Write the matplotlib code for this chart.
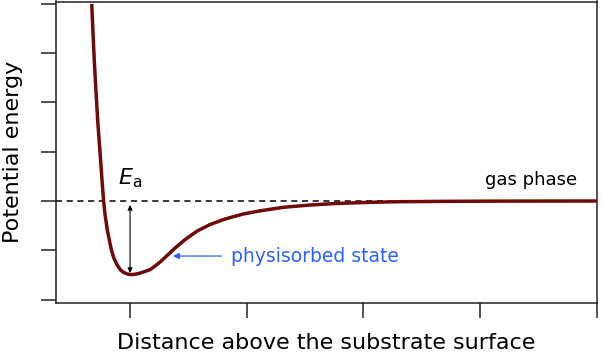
import matplotlib
matplotlib.use("Agg")
import matplotlib.pyplot as plt

# Potential curve (distance, energy)
distance = [0.6715, 0.681, 0.693, 0.707, 0.722, 0.741, 0.756, 0.773, 0.786, 0.805,
            0.822, 0.840, 0.861, 0.889, 0.919, 0.940, 0.957, 0.978, 1.000, 1.021,
            1.043, 1.065, 1.086, 1.129, 1.172, 1.214, 1.257, 1.317, 1.386, 1.472,
            1.575, 1.686, 1.815, 1.969, 2.115, 2.312, 2.544, 2.741, 3.058, 3.316,
            3.744, 4.173, 5.000]
energy = [4.000, 3.472, 2.863, 2.254, 1.645, 1.036, 0.528, 0.000, -0.284, -0.589,
          -0.792, -0.995, -1.157, -1.299, -1.401, -1.440, -1.462, -1.482, -1.492, -1.492,
          -1.486, -1.476, -1.462, -1.429, -1.391, -1.320, -1.239, -1.107, -0.954, -0.782,
          -0.609, -0.477, -0.365, -0.264, -0.199, -0.128, -0.081, -0.053, -0.026, -0.014,
          -0.006, -0.002, 0.000]
x_ticks = [1, 2, 3, 4, 5]
y_ticks = [-2, -1, 0, 1, 2, 3, 4]
well_min_x = 1.0
well_depth = -1.46

fig = plt.figure(figsize=(6.02, 3.57), dpi=100)
ax = fig.add_axes([56/602, (357-303)/357, (596.7-56)/602, (303-1.5)/357])

ax.axhline(0, color="black", lw=1.1, dashes=(4, 3), zorder=1)
ax.plot(distance, energy, color="#6e0a0a", lw=2.5, solid_joinstyle="round",
        solid_capstyle="butt", zorder=3)

ax.set_xlim(0.365, 5.0)
ax.set_ylim(-2.07, 4.05)
ax.set_xticks(x_ticks)
ax.set_yticks(y_ticks)
ax.set_xticklabels([])
ax.set_yticklabels([])
ax.tick_params(axis="both", direction="out", length=11, width=1.1, color="#222222")
for s in ax.spines.values():
    s.set_linewidth(1.1)
    s.set_color("#222222")

ax.set_xlabel("Distance above the substrate surface", fontsize=16, labelpad=7)
ax.set_ylabel("Potential energy", fontsize=16, labelpad=9)

ax.text(4.44, 0.43, "gas phase", fontsize=13, ha="center", va="center")
ax.text(2.587, -1.117, "physisorbed state", fontsize=13.5, ha="center", va="center",
        color="#2962ff")
ax.annotate("", xy=(1.343, -1.117), xytext=(1.806, -1.117),
            arrowprops=dict(arrowstyle="-|>", color="#2962ff", lw=0.9,
                            mutation_scale=9))
ax.text(1.0, 0.47, r"$E_\mathrm{a}$", fontsize=16, ha="center", va="center")
ax.annotate("", xy=(well_min_x, well_depth), xytext=(well_min_x, -0.08),
            arrowprops=dict(arrowstyle="<|-|>", color="black", lw=0.8,
                            mutation_scale=7, shrinkA=0, shrinkB=0))

fig.savefig("out.png", dpi=100)
